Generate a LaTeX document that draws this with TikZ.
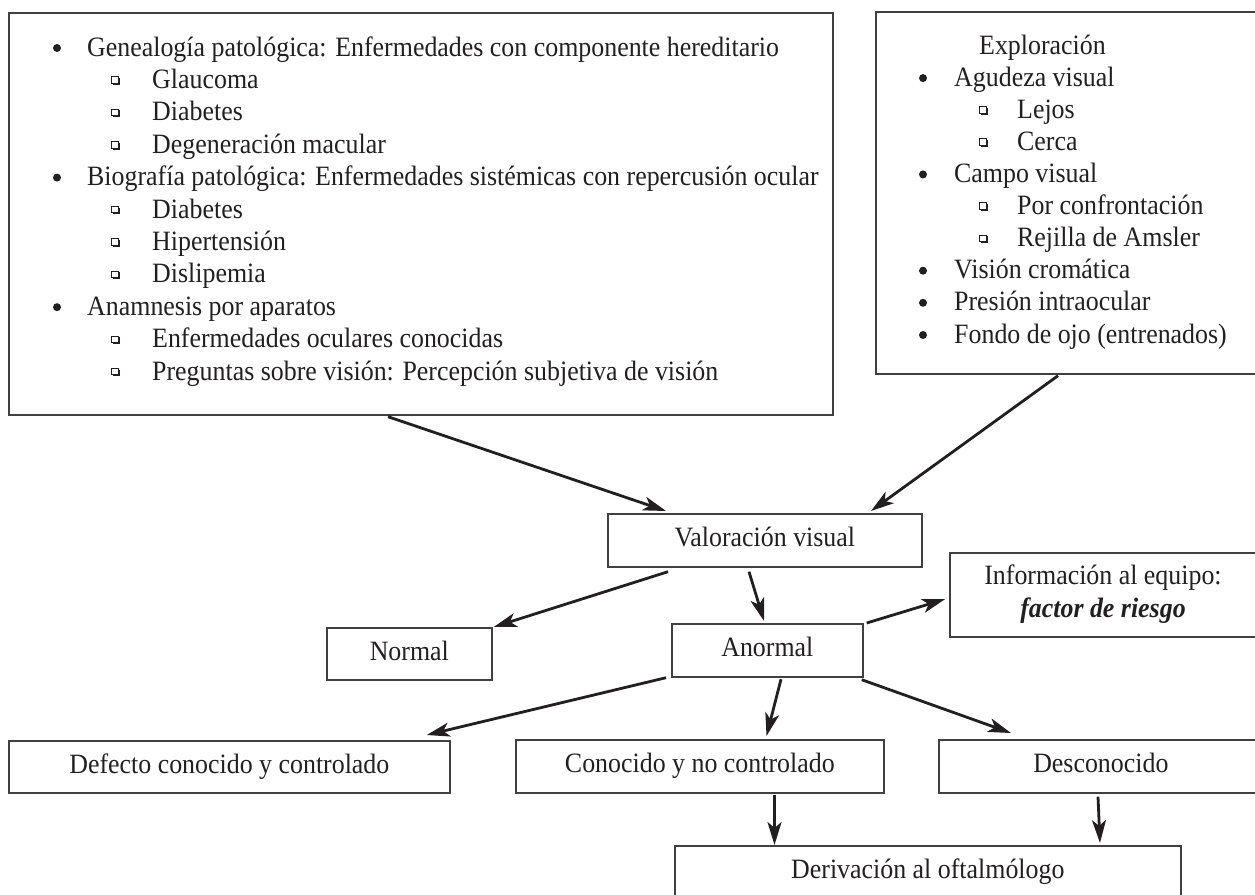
\documentclass[tikz,border=0pt]{standalone}
\usepackage{fontspec}
\setmainfont{Liberation Serif}[FakeStretch=0.925]
\usetikzlibrary{arrows.meta}
\definecolor{ink}{HTML}{231F20}
\definecolor{boxc}{HTML}{404040}
\tikzset{
  every node/.style={font=\fontsize{28}{32.3}\selectfont, text=ink},
  frame/.style={draw=boxc, line width=1.7pt, inner sep=0pt, anchor=north west},
  box/.style={frame, text height=19pt, text depth=6pt},
  ln/.style={anchor=base west, inner sep=0pt},
  arr/.style={draw=ink, line width=2.8pt, -{Stealth[length=23pt,width=14pt,inset=6pt]}},
  sqbul/.pic={\draw[ink, line width=0.8pt] (-3.2,-3.2) rectangle (3.2,3.2);
              \fill[ink] (-2,3.2) rectangle (4.8,4.8);
              \fill[ink] (3.2,-2) rectangle (4.8,4.8);},
  rdot/.pic={\fill[ink] (0,0) circle (4);}
}
\begin{document}
\begin{tikzpicture}[x=1pt,y=-1pt]
\useasboundingbox (0,0) rectangle (1255,894);
\clip (0,0) rectangle (1255,894);
% ---------- left box ----------
\node[frame, minimum width=824pt, minimum height=402pt] (L) at (8,12) {};
\pic at (57,48) {rdot};
\node[ln] (l1) at (87,56) {Genealogía patológica: Enfermedades con componente hereditario};
\pic at (115,79.9) {sqbul};
\node[ln] (l2) at (152,88.4) {Glaucoma};
\pic at (115,112.3) {sqbul};
\node[ln] (l3) at (152,120.8) {Diabetes};
\pic at (115,144.7) {sqbul};
\node[ln] (l4) at (152,153.2) {Degeneración macular};
\pic at (57,177.6) {rdot};
\node[ln] (l5) at (87,185.6) {Biografía patológica: Enfermedades sistémicas con repercusión ocular};
\pic at (115,209.5) {sqbul};
\node[ln] (l6) at (152,218) {Diabetes};
\pic at (115,241.9) {sqbul};
\node[ln] (l7) at (152,250.4) {Hipertensión};
\pic at (115,274.3) {sqbul};
\node[ln] (l8) at (152,282.8) {Dislipemia};
\pic at (57,307.2) {rdot};
\node[ln] (l9) at (87,315.2) {Anamnesis por aparatos};
\pic at (115,339.1) {sqbul};
\node[ln] (l10) at (152,347.6) {Enfermedades oculares conocidas};
\pic at (115,371.5) {sqbul};
\node[ln] (l11) at (152,380) {Preguntas sobre visión: Percepción subjetiva de visión};
% ---------- right box ----------
\node[frame, minimum width=383pt, minimum height=362pt] (R) at (875,11) {};
\node[ln] (r1) at (979,54) {Exploración};
\pic at (923,78.1) {rdot};
\node[ln] (r2) at (954,86.1) {Agudeza visual};
\pic at (983,109.7) {sqbul};
\node[ln] (r3) at (1017,118.2) {Lejos};
\pic at (983,141.8) {sqbul};
\node[ln] (r4) at (1017,150.3) {Cerca};
\pic at (923,174.4) {rdot};
\node[ln] (r5) at (954,182.4) {Campo visual};
\pic at (983,206) {sqbul};
\node[ln] (r6) at (1017,214.5) {Por confrontación};
\pic at (983,238.1) {sqbul};
\node[ln] (r7) at (1017,246.6) {Rejilla de Amsler};
\pic at (923,270.7) {rdot};
\node[ln] (r8) at (954,278.7) {Visión cromática};
\pic at (923,302.8) {rdot};
\node[ln] (r9) at (954,310.8) {Presión intraocular};
\pic at (923,335) {rdot};
\node[ln] (r10) at (954,343) {Fondo de ojo (entrenados)};
% ---------- flow boxes ----------
\node[box, minimum width=314pt, minimum height=53pt] (val) at (607,513) {Valoración visual};
\node[box, minimum width=165pt, minimum height=52pt] (nor) at (326,627) {Normal};
\node[box, minimum width=191pt, minimum height=53pt] (anor) at (671,623) {Anormal};
\node[frame, minimum width=308pt, minimum height=84pt] (info) at (949,552) {};
\node[anchor=base, inner sep=0pt] (info1) at (1103,584) {Información al equipo:};
\node[anchor=base, inner sep=0pt] (info2) at (1103,617) {\textbf{\textit{factor de riesgo}}};
\node[box, minimum width=441pt, minimum height=52pt] (def) at (8,740) {Defecto conocido y controlado};
\node[box, minimum width=368pt, minimum height=53pt] (con) at (515,739) {Conocido y no controlado};
\node[box, minimum width=324pt, minimum height=53pt] (des) at (938,739) {Desconocido};
\node[box, minimum width=506pt, minimum height=53pt] (der) at (674,845) {Derivación al oftalmólogo};
% ---------- arrows ----------
\draw[arr] ([xshift=380pt,yshift=-1pt]L.south west) -- ([xshift=59pt,yshift=2pt]val.north west);
\draw[arr] ([xshift=183pt,yshift=-1pt]R.south west) -- ([xshift=264pt,yshift=2pt]val.north west);
\draw[arr] ([xshift=61pt,yshift=-4pt]val.south west) -- ([xshift=1pt]nor.north east);
\draw[arr] ([xshift=142pt,yshift=-4pt]val.south west) -- ([xshift=93pt,yshift=2pt]anor.north west);
\draw[arr] ([xshift=3pt]anor.north east) -- ([xshift=-4pt,yshift=38.5pt]info.south west);
\draw[arr] ([xshift=-5pt]anor.south west) -- ([xshift=-24pt,yshift=5pt]def.north east);
\draw[arr] ([xshift=110pt,yshift=-1.5pt]anor.south west) -- ([xshift=251.5pt,yshift=3pt]con.north west);
\draw[arr] ([xshift=-2pt,yshift=-2pt]anor.south east) -- ([xshift=73pt,yshift=6pt]des.north west);
\draw[arr] ([xshift=259.5pt,yshift=-1pt]con.south west) -- ([xshift=100.5pt]der.north west);
\draw[arr] ([xshift=160pt,yshift=-3pt]des.south west) -- ([xshift=426pt,yshift=2pt]der.north west);
\end{tikzpicture}
\end{document}
